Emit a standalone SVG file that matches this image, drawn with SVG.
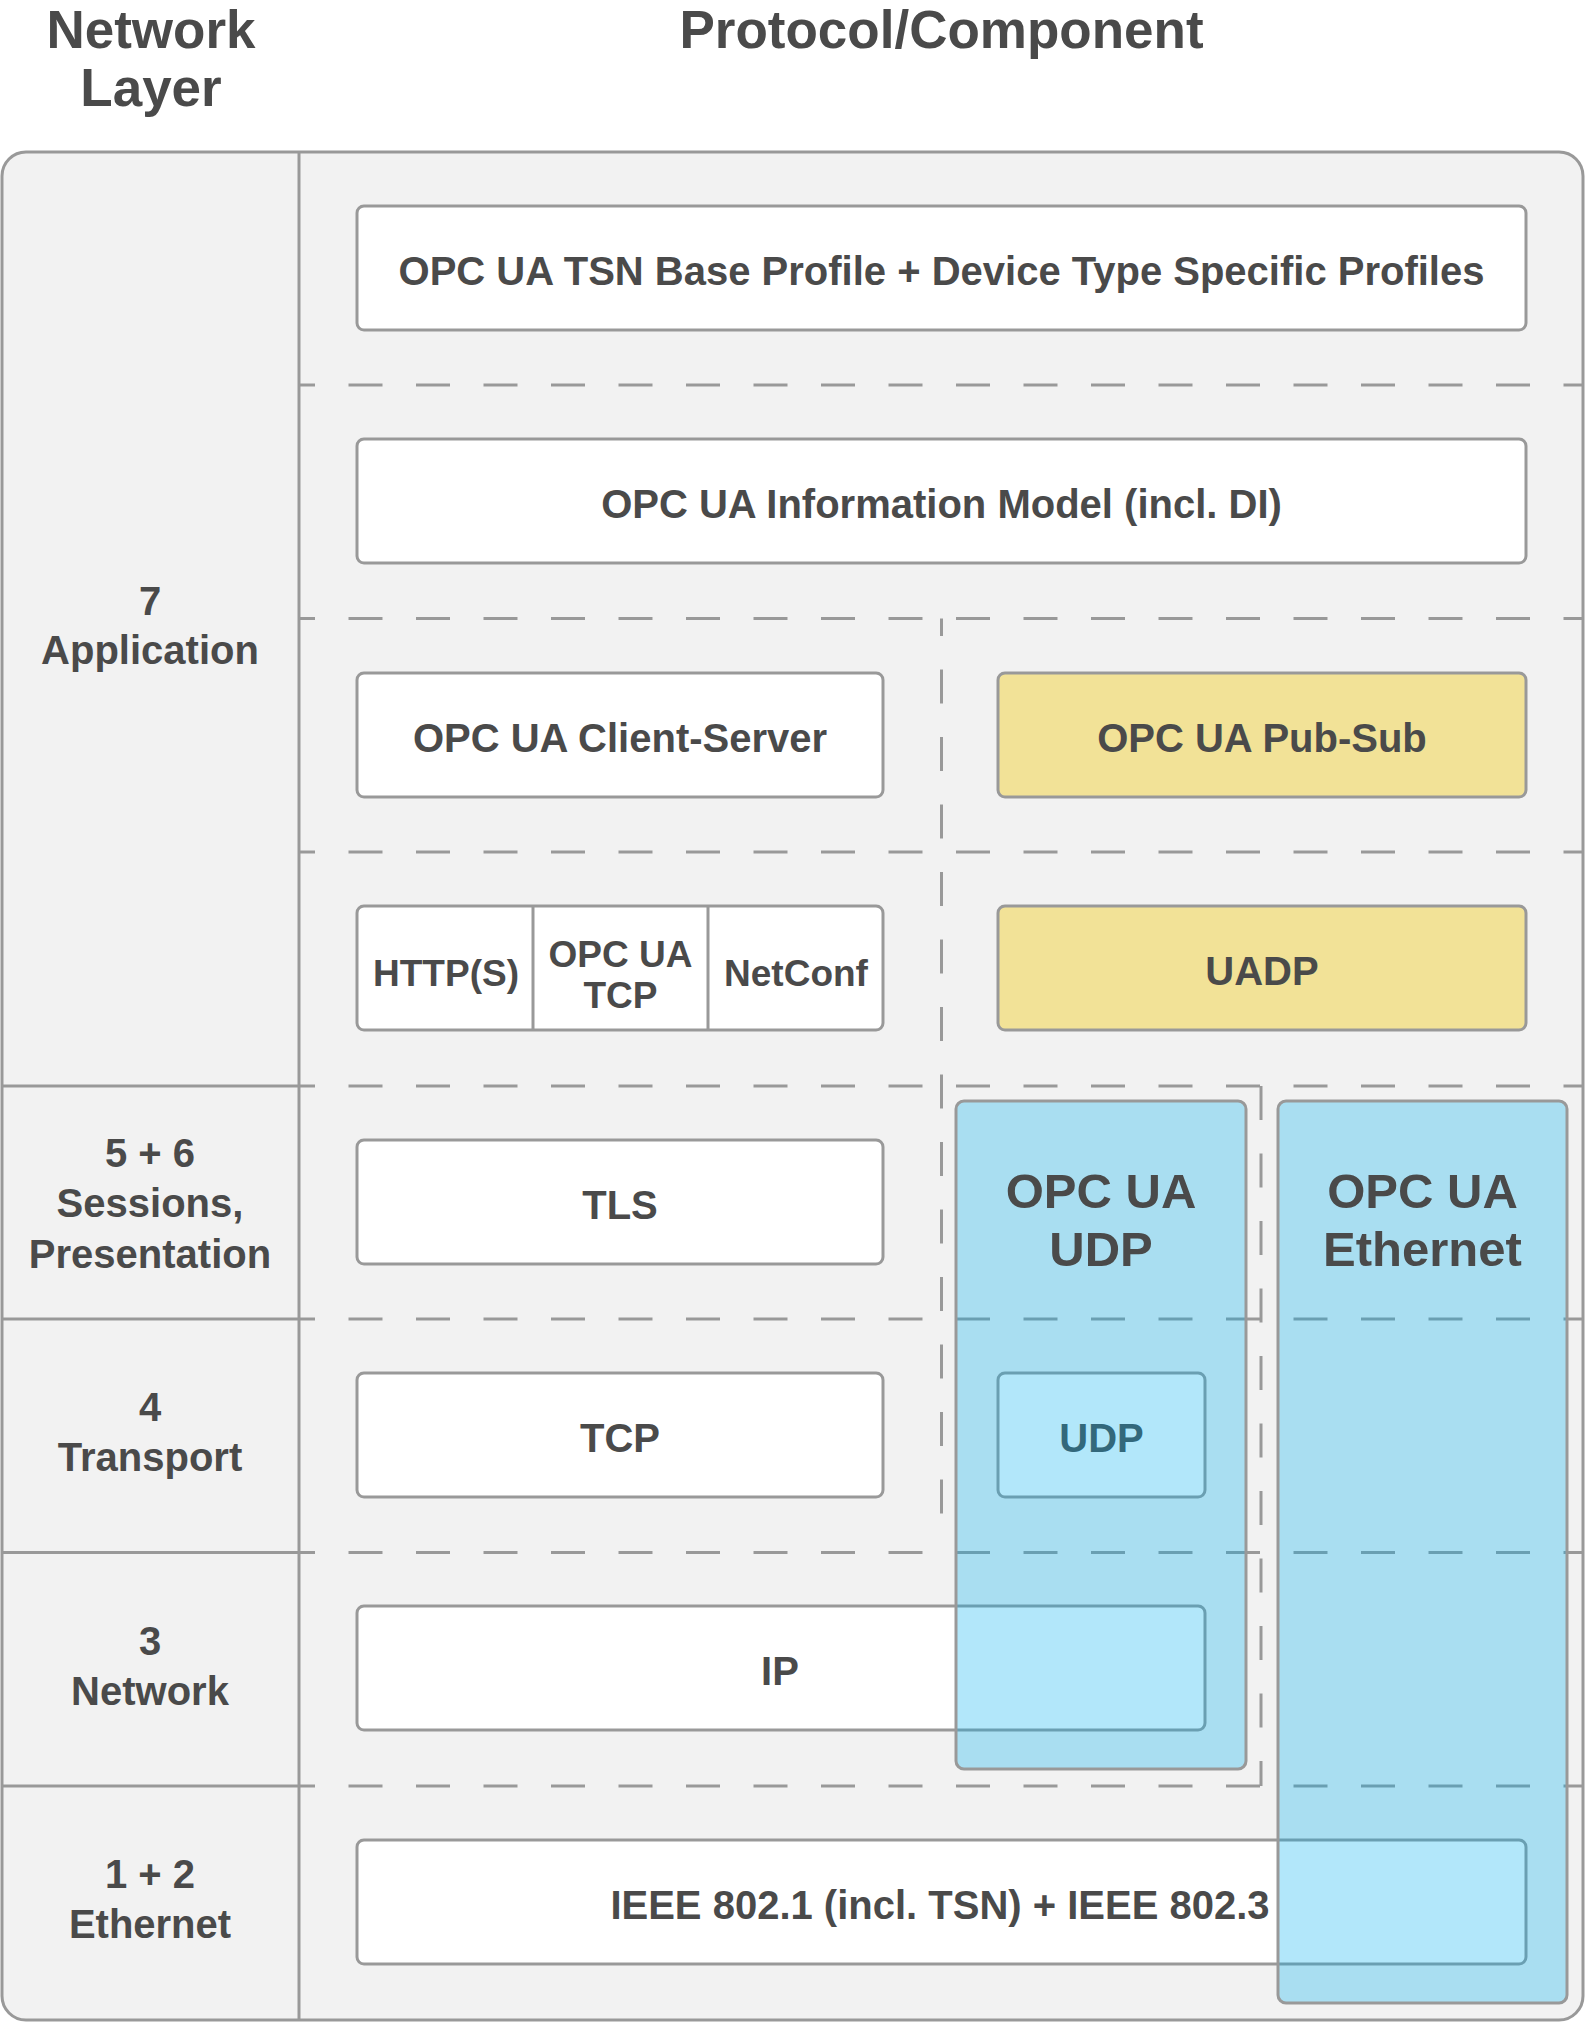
<svg xmlns="http://www.w3.org/2000/svg" width="1585" height="2023" viewBox="0 0 1585 2023">
<defs>
<style>
.t{font-family:'Liberation Sans',Arial,Helvetica,sans-serif;font-weight:bold;fill:#4a4a4a;text-anchor:middle}
.f40{font-size:40px}
.f37{font-size:37px}
.f53{font-size:53px}
.f49{font-size:49px}
.box{fill:#ffffff;stroke:#999999;stroke-width:3}
.ylw{fill:#f2e297;stroke:#999999;stroke-width:3}
.blue{fill:#00aeef;fill-opacity:0.3;stroke:#999999;stroke-width:3}
.dash{stroke:#999999;stroke-width:3;stroke-dasharray:34 33.5;fill:none}
.solid{stroke:#999999;stroke-width:3;fill:none}
</style>
</defs>
<rect width="1585" height="2023" fill="#ffffff"/>
<g id="headers">
<text class="t f53" x="151" y="48">Network</text>
<text class="t f53" x="151" y="106">Layer</text>
<text class="t f53" x="941.5" y="48">Protocol/Component</text>
</g>
<g id="frame">
<rect x="2" y="152" width="1581" height="1868" rx="24" fill="#f2f2f2" stroke="#999999" stroke-width="3"/>
<line class="solid" x1="299" y1="152" x2="299" y2="2020"/>
<line class="solid" x1="2" y1="1086" x2="299" y2="1086"/>
<line class="solid" x1="2" y1="1319" x2="299" y2="1319"/>
<line class="solid" x1="2" y1="1552.5" x2="299" y2="1552.5"/>
<line class="solid" x1="2" y1="1786" x2="299" y2="1786"/>
</g>
<g id="layer-labels">
<text class="t f40" x="150" y="615">7</text>
<text class="t f40" x="150" y="664">Application</text>
<text class="t f40" x="150" y="1167">5 + 6</text>
<text class="t f40" x="150" y="1217">Sessions,</text>
<text class="t f40" x="150" y="1268">Presentation</text>
<text class="t f40" x="150" y="1421">4</text>
<text class="t f40" x="150" y="1471">Transport</text>
<text class="t f40" x="150" y="1655">3</text>
<text class="t f40" x="150" y="1705">Network</text>
<text class="t f40" x="150" y="1888">1 + 2</text>
<text class="t f40" x="150" y="1938">Ethernet</text>
</g>
<g id="connectors">
<line class="dash" stroke-dashoffset="18" x1="299" y1="385" x2="1583" y2="385"/>
<line class="dash" stroke-dashoffset="18" x1="299" y1="618.5" x2="1583" y2="618.5"/>
<line class="dash" stroke-dashoffset="18" x1="299" y1="852" x2="1583" y2="852"/>
<line class="dash" stroke-dashoffset="18" x1="299" y1="1086" x2="1583" y2="1086"/>
<line class="dash" stroke-dashoffset="18" x1="299" y1="1319" x2="1583" y2="1319"/>
<line class="dash" stroke-dashoffset="18" x1="299" y1="1552.5" x2="1583" y2="1552.5"/>
<line class="dash" stroke-dashoffset="18" x1="299" y1="1786" x2="1583" y2="1786"/>
<line class="dash" stroke-dashoffset="16.5" x1="941.5" y1="618.5" x2="941.5" y2="1542"/>
<line class="dash" x1="1261" y1="1086" x2="1261" y2="1786"/>
</g>
<g id="tsn-base-profile">
<rect class="box" x="357" y="206" width="1169" height="124" rx="7"/>
<text class="t f40" x="941.5" y="285">OPC UA TSN Base Profile + Device Type Specific Profiles</text>
</g>
<g id="information-model">
<rect class="box" x="357" y="439" width="1169" height="124" rx="7"/>
<text class="t f40" x="941.5" y="518">OPC UA Information Model (incl. DI)</text>
</g>
<g id="client-server">
<rect class="box" x="357" y="673" width="526" height="124" rx="7"/>
<text class="t f40" x="620" y="752">OPC UA Client-Server</text>
</g>
<g id="pub-sub">
<rect class="ylw" x="998" y="673" width="528" height="124" rx="7"/>
<text class="t f40" x="1262" y="752">OPC UA Pub-Sub</text>
</g>
<g id="transports">
<rect class="box" x="357" y="906" width="526" height="124" rx="7"/>
<line class="solid" x1="533" y1="906" x2="533" y2="1030"/>
<line class="solid" x1="708" y1="906" x2="708" y2="1030"/>
<text class="t f37" x="446" y="986">HTTP(S)</text>
<text class="t f37" x="620.5" y="967">OPC UA</text>
<text class="t f37" x="620.5" y="1008">TCP</text>
<text class="t f37" x="796" y="986">NetConf</text>
</g>
<g id="uadp">
<rect class="ylw" x="998" y="906" width="528" height="124" rx="7"/>
<text class="t f40" x="1262" y="985">UADP</text>
</g>
<g id="tls">
<rect class="box" x="357" y="1140" width="526" height="124" rx="7"/>
<text class="t f40" x="620" y="1219">TLS</text>
</g>
<g id="tcp">
<rect class="box" x="357" y="1373" width="526" height="124" rx="7"/>
<text class="t f40" x="620" y="1452">TCP</text>
</g>
<g id="udp">
<rect class="box" x="998" y="1373" width="207" height="124" rx="7"/>
<text class="t f40" x="1101.5" y="1452">UDP</text>
</g>
<g id="ip">
<rect class="box" x="357" y="1606" width="848" height="124" rx="7"/>
<text class="t f40" x="780" y="1685">IP</text>
</g>
<g id="ieee">
<rect class="box" x="357" y="1840" width="1169" height="124" rx="7"/>
<text class="t f40" x="940" y="1919">IEEE 802.1 (incl. TSN) + IEEE 802.3</text>
</g>
<g id="opc-ua-udp">
<rect class="blue" x="956" y="1101" width="290" height="668" rx="8"/>
<text class="t f49" x="1101" y="1208">OPC UA</text>
<text class="t f49" x="1101" y="1266">UDP</text>
</g>
<g id="opc-ua-ethernet">
<rect class="blue" x="1278" y="1101" width="289" height="902" rx="8"/>
<text class="t f49" x="1422.5" y="1208">OPC UA</text>
<text class="t f49" x="1422.5" y="1266">Ethernet</text>
</g>
</svg>
